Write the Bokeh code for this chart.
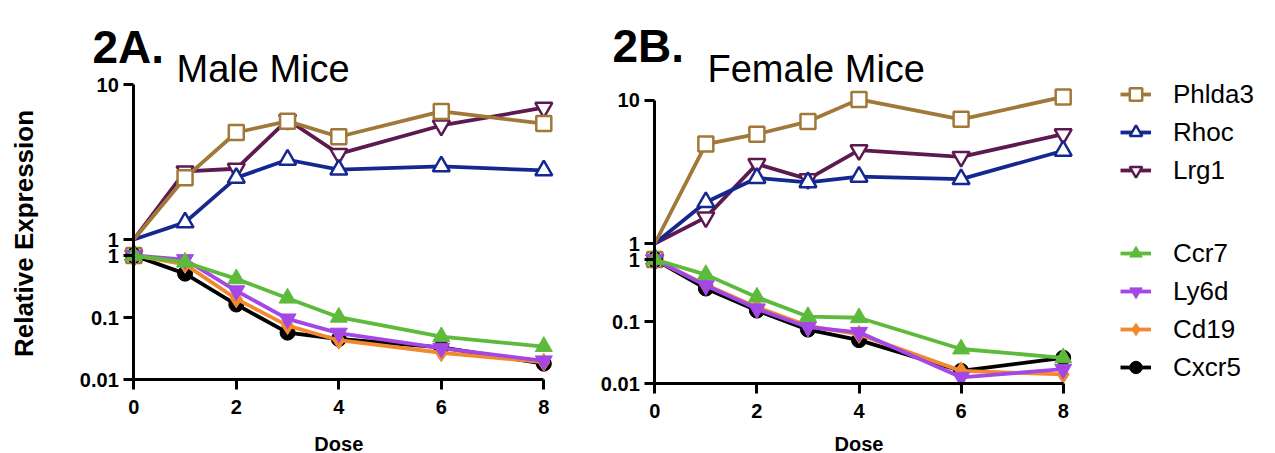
import math
from bokeh.plotting import figure
from bokeh.models import (Range1d, LinearScale, LogScale, LinearAxis, LogAxis, FixedTicker,
                          CustomJSTickFormatter, ColumnDataSource, CDSView, IndexFilter, Label,
                          Legend, LegendItem)
from bokeh.embed import file_html
from bokeh.resources import INLINE

# ---------------- data ----------------
dose = [0, 1, 2, 3, 4, 6, 8]

male_phlda3 = [1, 2.5, 4.9, 5.8, 4.6, 6.7, 5.6]
male_rhoc = [1, 1.29, 2.5, 3.27, 2.82, 2.96, 2.79]
male_lrg1 = [1, 2.75, 2.86, 5.92, 3.57, 5.44, 7.08]
male_ccr7 = [1, 0.78, 0.42, 0.205, 0.101, 0.049, 0.034]
male_ly6d = [1, 0.86, 0.27, 0.095, 0.056, 0.032, 0.020]
male_cd19 = [1, 0.72, 0.20, 0.074, 0.043, 0.027, 0.019]
male_cxcr5 = [1, 0.51, 0.162, 0.057, 0.045, 0.033, 0.018]

female_phlda3 = [1, 4.93, 5.78, 7.07, 10.1, 7.34, 10.5]
female_rhoc = [1, 1.94, 2.86, 2.67, 2.92, 2.81, 4.43]
female_lrg1 = [1, 1.52, 3.58, 2.81, 4.47, 4.02, 5.78]
female_ccr7 = [1, 0.57, 0.247, 0.12, 0.115, 0.036, 0.026]
female_ly6d = [1, 0.38, 0.16, 0.081, 0.067, 0.0126, 0.017]
female_cd19 = [1, 0.39, 0.17, 0.085, 0.062, 0.016, 0.014]
female_cxcr5 = [1, 0.34, 0.15, 0.074, 0.050, 0.016, 0.026]

up_genes = ["Phlda3", "Rhoc", "Lrg1"]
down_genes = ["Ccr7", "Ly6d", "Cd19", "Cxcr5"]
x_ticks = [0, 2, 4, 6, 8]
top_ticks = [1, 10]
bottom_ticks = [0.01, 0.1, 1]

panel_titles = ["Male Mice", "Female Mice"]
panel_tags = ["2A.", "2B."]
x_label = "Dose"
y_label = "Relative Expression"

# ---------------- styles ----------------
colors = {"Phlda3": "#A07838", "Rhoc": "#14288F", "Lrg1": "#5C1A50",
          "Ccr7": "#5DBA3B", "Ly6d": "#A347E6", "Cd19": "#F2892F", "Cxcr5": "#000000"}
markers = {"Phlda3": ("square", 15), "Rhoc": ("triangle", 17), "Lrg1": ("inverted_triangle", 17),
           "Ccr7": ("triangle", 17), "Ly6d": ("inverted_triangle", 17), "Cd19": ("diamond", 18),
           "Cxcr5": ("circle", 15)}
FONT = "Liberation Sans"
W, H = 1275, 453


def lin_range(v0, p0, v1, p1):
    k = (v1 - v0) / (p1 - p0)
    return Range1d(v0 - p0 * k, v1 + (W - p1) * k)


def log_k(v_lo, p_lo, v_hi, p_hi):
    return (math.log10(v_hi) - math.log10(v_lo)) / (p_lo - p_hi)


def log_range(v_lo, p_lo, v_hi, p_hi):
    k = log_k(v_lo, p_lo, v_hi, p_hi)
    return Range1d(10 ** (math.log10(v_lo) - (H - p_lo) * k),
                   10 ** (math.log10(v_hi) + p_hi * k))


# layout anchors (pixel positions of axis values)
layout = [
    dict(xr="default", yt="At", yb="default", x0=133.3, x8=543.3,
         top1=239, top10=84, bot001=379, bot1=255, tag=(92, 46.5), title=(176, 68.5)),
    dict(xr="B", yt="Bt", yb="Bb", x0=654.3, x8=1062.7,
         top1=243, top10=99.5, bot001=383, bot1=259, tag=(612, 45.5), title=(707, 68.5)),
]

A, B = layout
p = figure(width=W, height=H, output_backend="svg", toolbar_location=None,
           x_axis_location=None, y_axis_location=None, y_axis_type="log", min_border=0,
           x_range=lin_range(0, A["x0"], 8, A["x8"]),
           y_range=log_range(0.01, A["bot001"], 1, A["bot1"]))
p.outline_line_color = None
p.grid.visible = False
p.background_fill_color = "white"
p.border_fill_color = "white"

p.extra_x_ranges = {"B": lin_range(0, B["x0"], 8, B["x8"])}
p.extra_x_scales = {"B": LinearScale()}
p.extra_y_ranges = {"At": log_range(1, A["top1"], 10, A["top10"]),
                    "Bt": log_range(1, B["top1"], 10, B["top10"]),
                    "Bb": log_range(0.01, B["bot001"], 1, B["bot1"])}
p.extra_y_scales = {"At": LogScale(), "Bt": LogScale(), "Bb": LogScale()}

datasets = [
    {"Phlda3": male_phlda3, "Rhoc": male_rhoc, "Lrg1": male_lrg1,
     "Ccr7": male_ccr7, "Ly6d": male_ly6d, "Cd19": male_cd19, "Cxcr5": male_cxcr5},
    {"Phlda3": female_phlda3, "Rhoc": female_rhoc, "Lrg1": female_lrg1,
     "Ccr7": female_ccr7, "Ly6d": female_ly6d, "Cd19": female_cd19, "Cxcr5": female_cxcr5},
]


def style_axis(ax, standoff):
    ax.axis_line_width = 3
    ax.axis_line_color = "black"
    ax.major_tick_line_width = 3
    ax.major_tick_line_color = "black"
    ax.major_tick_out = 10
    ax.major_tick_in = 0
    ax.minor_tick_out = 0
    ax.minor_tick_in = 0
    ax.major_label_text_font = FONT
    ax.major_label_text_font_style = "bold"
    ax.major_label_text_font_size = "20px"
    ax.major_label_text_color = "black"
    ax.major_label_standoff = standoff


legend_renderers = {}
for i, (lay, data) in enumerate(zip(layout, datasets)):
    xr, yt, yb = lay["xr"], lay["yt"], lay["yb"]
    sources = {g: ColumnDataSource(dict(x=dose, y=data[g])) for g in up_genes + down_genes}

    # dose-0 markers of the up-regulated genes, drawn at the bottom segment's 1
    for g in ["Lrg1", "Rhoc", "Phlda3"]:
        m, s = markers[g]
        p.scatter("x", "y", source=sources[g], view=CDSView(filter=IndexFilter([0])),
                  x_range_name=xr, y_range_name=yb, marker=m, size=s,
                  line_color=colors[g], fill_color="white", line_width=2.5)

    # down-regulated genes (bottom segment)
    for g in ["Cxcr5", "Cd19", "Ly6d", "Ccr7"]:
        m, s = markers[g]
        lr = p.line("x", "y", source=sources[g], x_range_name=xr, y_range_name=yb,
                    line_color=colors[g], line_width=3.8)
        sr = p.scatter("x", "y", source=sources[g], x_range_name=xr, y_range_name=yb,
                       marker=m, size=s, line_color=colors[g], fill_color=colors[g], line_width=1)
        legend_renderers.setdefault(g, [lr, sr])

    # up-regulated genes (top segment)
    for g in ["Lrg1", "Rhoc", "Phlda3"]:
        m, s = markers[g]
        lr = p.line("x", "y", source=sources[g], x_range_name=xr, y_range_name=yt,
                    line_color=colors[g], line_width=3.8)
        sr = p.scatter("x", "y", source=sources[g],
                       view=CDSView(filter=IndexFilter(list(range(1, len(dose))))),
                       x_range_name=xr, y_range_name=yt, marker=m, size=s,
                       line_color=colors[g], fill_color="white", line_width=2.5)
        legend_renderers.setdefault(g, [lr, sr])

    # axes
    k_top = log_k(1, lay["top1"], 10, lay["top10"])
    low_top = 10 ** (-(lay["bot1"] - lay["top1"]) * k_top)
    ya_top = LogAxis(x_range_name=xr, y_range_name=yt, fixed_location=0, bounds=(low_top, 10),
                     ticker=FixedTicker(ticks=top_ticks, minor_ticks=[]),
                     formatter=CustomJSTickFormatter(code="return String(tick)"))
    style_axis(ya_top, 5)
    p.add_layout(ya_top, "left")

    ya_bot = LogAxis(x_range_name=xr, y_range_name=yb, fixed_location=0, bounds=(0.01, 1),
                     ticker=FixedTicker(ticks=bottom_ticks, minor_ticks=[]),
                     formatter=CustomJSTickFormatter(code="return String(tick)"))
    style_axis(ya_bot, 5)
    p.add_layout(ya_bot, "left")

    xa = LinearAxis(x_range_name=xr, y_range_name=yb, fixed_location=0.01, bounds=(0, 8),
                    ticker=FixedTicker(ticks=x_ticks, minor_ticks=[]))
    style_axis(xa, 10)
    p.add_layout(xa, "below")

    # texts
    tx, ty = lay["tag"]
    p.add_layout(Label(x=tx, y=H - ty, x_units="screen", y_units="screen", text=panel_tags[i],
                       text_font=FONT, text_font_style="bold", text_font_size="46px",
                       text_baseline="alphabetic", text_align="left", text_color="black"))
    tx, ty = lay["title"]
    p.add_layout(Label(x=tx, y=H - ty, x_units="screen", y_units="screen", text=panel_titles[i],
                       text_font=FONT, text_font_size="38px",
                       text_baseline="alphabetic", text_align="left", text_color="black"))
    p.add_layout(Label(x=4, x_range_name=xr, y=H - 443, y_units="screen", text=x_label,
                       text_font=FONT, text_font_style="bold", text_font_size="20px",
                       text_baseline="alphabetic", text_align="center", text_color="black"))

p.add_layout(Label(x=23, y=H - 233, x_units="screen", y_units="screen", text=y_label,
                   angle=math.pi / 2, text_font=FONT, text_font_style="bold",
                   text_font_size="26px", text_baseline="middle", text_align="center",
                   text_color="black"))


def make_legend(genes, loc):
    leg = Legend(items=[LegendItem(label=g, renderers=legend_renderers[g]) for g in genes],
                 location=loc, glyph_width=31, glyph_height=32, label_height=32, spacing=6,
                 label_standoff=22, padding=0, margin=0, border_line_color=None,
                 background_fill_alpha=0, label_text_font=FONT, label_text_font_size="26px",
                 label_text_color="black")
    p.add_layout(leg)


make_legend(up_genes, (1120, 267))
make_legend(down_genes, (1120, 70))

open("out.html", "w").write(file_html(p, INLINE))
